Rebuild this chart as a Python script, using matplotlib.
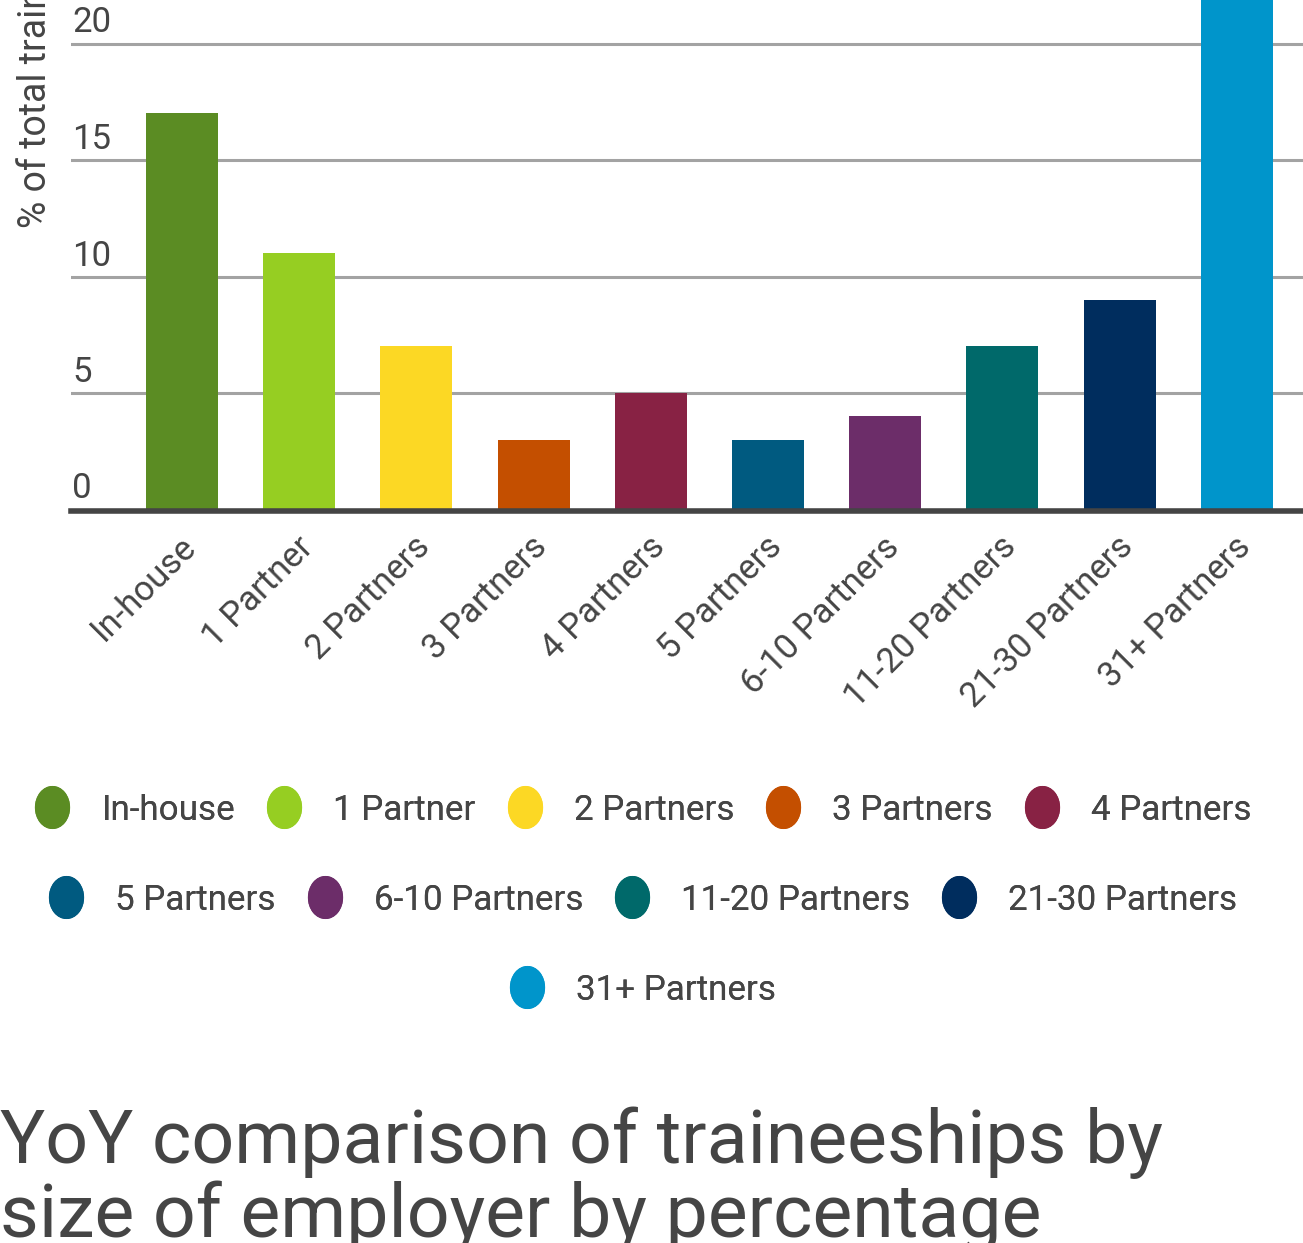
import matplotlib
matplotlib.use("Agg")
import matplotlib.pyplot as plt
from matplotlib.path import Path
from matplotlib.transforms import Affine2D, ScaledTranslation, blended_transform_factory
from matplotlib.lines import Line2D

categories = ["In-house", "1 Partner", "2 Partners", "3 Partners", "4 Partners",
              "5 Partners", "6-10 Partners", "11-20 Partners", "21-30 Partners", "31+ Partners"]
values = [17, 11, 7, 3, 5, 3, 4, 7, 9, 30]
colors = ["#5B8C23", "#96CE22", "#FCD824", "#C44F00", "#882244",
          "#005A80", "#6C2D69", "#00696A", "#002D5E", "#0095CB"]
yticks = [0, 5, 10, 15, 20]
ylabel = "% of total traineeships"
title = "YoY comparison of traineeships by\nsize of employer by percentage"

TXT = "#454545"
plt.rcParams['font.family'] = ['Roboto', 'DejaVu Sans']

W, H = 1303, 1243
fig = plt.figure(figsize=(W / 100, H / 100), dpi=100)

# axes (extends beyond the top/right of the canvas, as in the cropped reference)
step = 117.2
x_left_px = 71
xmin, xmax = -0.947, 9.947
ymax = 40
ppu = 23.3
ax_w = (xmax - xmin) * step
ax_h = ymax * ppu
base_px = 509.5
ax = fig.add_axes([x_left_px / W, (H - base_px) / H, ax_w / W, ax_h / H])
ax.set_xlim(xmin, xmax)
ax.set_ylim(0, ymax)

x = list(range(len(categories)))
ax.bar(x, values, width=0.614, color=colors, zorder=2)

for s in ["top", "right", "left"]:
    ax.spines[s].set_visible(False)
ax.spines["bottom"].set_color("#444444")
ax.spines["bottom"].set_linewidth(4.0)
ax.spines["bottom"].set_zorder(3)
ax.spines["bottom"].set_position(("outward", 1.0))

ax.set_yticks(yticks)
ax.yaxis.grid(True, color="#a3a3a3", linewidth=2.2, zorder=1)
ax.set_axisbelow(True)
ax.tick_params(axis="y", length=0, labelleft=False)

trans = blended_transform_factory(ax.transAxes, ax.transData) + \
    ScaledTranslation(1 / 100, 11 / 100, fig.dpi_scale_trans)
for t in yticks:
    ax.text(0, t, f"{t}", transform=trans, ha="left", va="baseline",
            fontsize=25, color=TXT)

ax.set_xticks(x)
ax.set_xticklabels(categories, rotation=45, ha="right", rotation_mode="anchor",
                   fontsize=25, color=TXT)
ax.tick_params(axis="x", length=0, pad=14)
shift = ScaledTranslation(-3 / 100, 0, fig.dpi_scale_trans)
for lab in ax.get_xticklabels():
    lab.set_transform(lab.get_transform() + shift)

fig.text(35 / W, 1 - 228 / H, ylabel, rotation=90, ha="center", va="bottom",
         fontsize=27, color=TXT)

# legend with elliptical markers
ell = Path.unit_circle().transformed(Affine2D().scale(0.81, 1.0))
handles = [Line2D([], [], linestyle="", marker=ell, markersize=30,
                  markerfacecolor=c, markeredgecolor=c) for c in colors]
rows = [(0, 5, 810), (5, 9, 900), (9, 10, 990)]
for a, b, ypx in rows:
    leg = fig.legend(handles[a:b], categories[a:b], loc="center",
                     bbox_to_anchor=(643 / W, 1 - ypx / H), ncol=b - a,
                     frameon=False, fontsize=25.2, handlelength=1.0,
                     handletextpad=0.9, columnspacing=0.9, borderpad=0,
                     labelcolor=TXT)
    fig.add_artist(leg)

fig.text(0, 1 - 1237 / H, title, ha="left", va="baseline", fontsize=54.2,
         fontweight="normal", color=TXT, linespacing=1.03)

fig.savefig("out.png", dpi=100)
